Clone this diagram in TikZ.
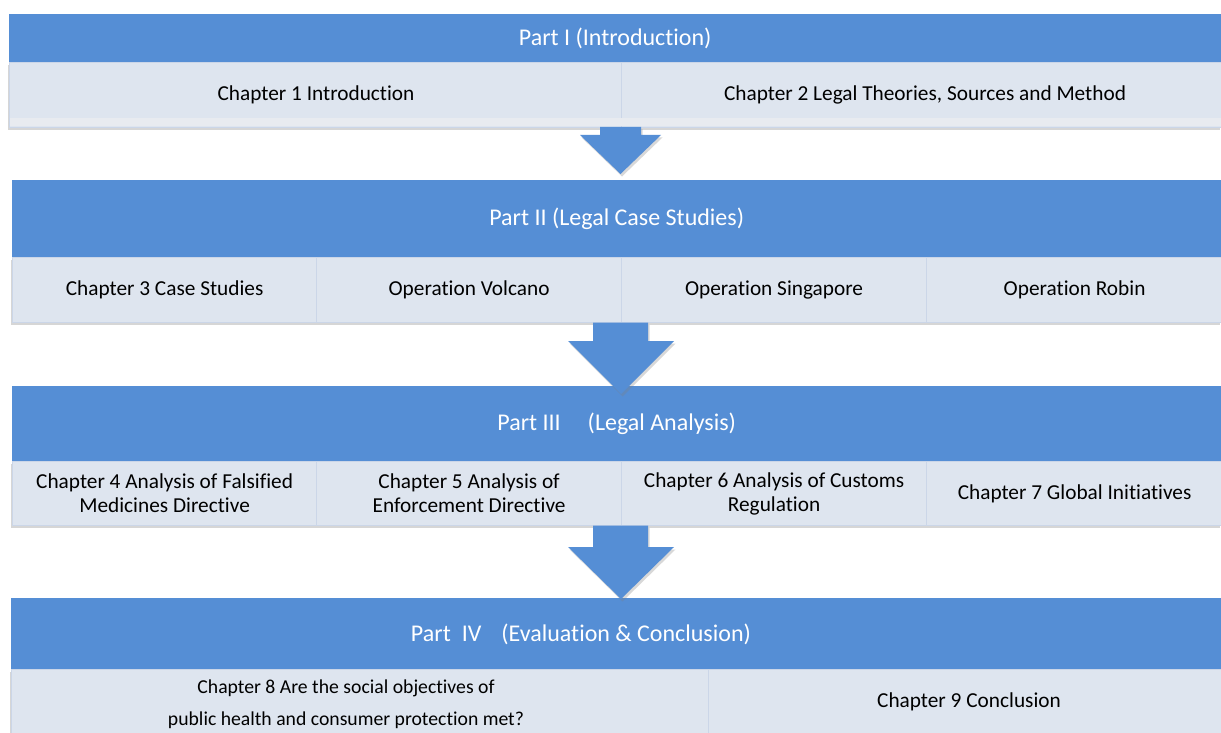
\documentclass[tikz,border=0pt]{standalone}
\usepackage{fontspec}
\setmainfont{Carlito}[Ligatures=NoCommon]
\usetikzlibrary{shadows}
\definecolor{hdrblue}{RGB}{85,142,213}
\definecolor{cellfill}{RGB}{222,229,239}
\definecolor{cellline}{RGB}{203,214,232}
\definecolor{stripfill}{RGB}{232,235,240}
\newcommand{\fsz}{\fontsize{21.3}{24}\selectfont}
\newcommand{\hsz}{\fontsize{24}{28}\selectfont}
\begin{document}
\begin{tikzpicture}[x=1pt,y=-1pt,
  hdr/.style={fill=hdrblue, draw=none, text=white, anchor=north west, inner sep=0pt, align=center, font=\hsz},
  rowbox/.style={fill=cellfill, draw=none, anchor=north west, inner sep=0pt,
    drop shadow={opacity=0.35, shadow xshift=-1pt, shadow yshift=-2.5pt, fill=black!45}},
  cell/.style={fill=cellfill, draw=cellline, line width=1.2pt, anchor=north west, inner sep=0pt, align=center, font=\fsz},
  txt/.style={inner sep=0pt, align=center, font=\fsz},
  blockarrow/.style={fill=hdrblue, drop shadow={opacity=0.3, shadow xshift=1.5pt, shadow yshift=-2.5pt, fill=black!50}}
]
\path[use as bounding box, clip] (0,0) rectangle (1221,733);
\fill[white] (0,0) rectangle (1221,733);

% ---------- Block 1 ----------
\node[rowbox, minimum width=1212pt, minimum height=65pt] (b1row) at (9,62) {};
\node[cell, minimum width=612pt, minimum height=65pt] (b1c1) at (9,62) {};
\node[cell, minimum width=600pt, minimum height=65pt] (b1c2) at (621,62) {};
\fill[stripfill] (10,118) rectangle (1221,126);
\node[txt] (t1c1) at (316,95) {Chapter 1 Introduction};
\node[txt] (t1c2) at (925,95) {Chapter 2 Legal Theories, Sources and Method};
\node[hdr, minimum width=1212pt, minimum height=48pt] (b1h) at (9,14) {Part I (Introduction)};

% ---------- Block 2 ----------
\node[rowbox, minimum width=1209pt, minimum height=65pt] (b2row) at (12,257) {};
\node[cell, minimum width=304pt, minimum height=65pt] (b2c1) at (12,257) {Chapter 3 Case Studies};
\node[cell, minimum width=305pt, minimum height=65pt] (b2c2) at (316,257) {Operation Volcano};
\node[cell, minimum width=305pt, minimum height=65pt] (b2c3) at (621,257) {Operation Singapore};
\node[cell, minimum width=296pt, minimum height=65pt] (b2c4) at (926,257) {Operation Robin};
\node[hdr, minimum width=1209pt, minimum height=77pt] (b2h) at (12,180) {Part II (Legal Case Studies)};

% ---------- Block 3 ----------
\node[rowbox, minimum width=1209pt, minimum height=64pt] (b3row) at (12,461) {};
\node[cell, minimum width=304pt, minimum height=64pt] (b3c1) at (12,461) {Chapter 4 Analysis of Falsified\\Medicines Directive};
\node[cell, minimum width=305pt, minimum height=64pt] (b3c2) at (316,461) {Chapter 5 Analysis of\\Enforcement Directive};
\node[cell, minimum width=305pt, minimum height=64pt] (b3c3) at (621,461) {Chapter 6 Analysis of Customs\\Regulation};
\node[cell, minimum width=296pt, minimum height=64pt] (b3c4) at (926,461) {Chapter 7 Global Initiatives};
\node[hdr, minimum width=1209pt, minimum height=75pt] (b3h) at (12,386) {Part III\hspace{27pt}(Legal Analysis)};

% ---------- Block 4 ----------
\node[rowbox, minimum width=1210pt, minimum height=80pt] (b4row) at (11,669) {};
\node[cell, minimum width=697pt, minimum height=80pt] (b4c1) at (11,669) {};
\node[cell, minimum width=514pt, minimum height=80pt] (b4c2) at (708,669) {};
\node[txt, font=\fontsize{19.7}{32}\selectfont] (t4c1) at (346,704) {Chapter 8 Are the social objectives of\\public health and consumer protection met?};
\node[txt] (t4c2) at (969,702) {Chapter 9 Conclusion};
\node[hdr, minimum width=1210pt, minimum height=71pt] (b4h) at (11,598) {};
\node[txt, text=white, font=\hsz] (t4h) at (581,634) {Part\hspace{11pt}IV\hspace{20pt}(Evaluation \& Conclusion)};

% ---------- Arrows ----------
\fill[blockarrow] (600,127) -- (641,127) -- (641,135) -- (661,135) -- (620.5,174)
  -- (580,135) -- (600,135) -- cycle;
\fill[blockarrow] (593,322.5) -- (648,322.5) -- (648,341) -- (674,341) -- (621,394)
  -- (568,341) -- (593,341) -- cycle;
\fill[blockarrow] (593,525.5) -- (648,525.5) -- (648,547) -- (674,547) -- (621,599)
  -- (568,547) -- (593,547) -- cycle;
\end{tikzpicture}
\end{document}
